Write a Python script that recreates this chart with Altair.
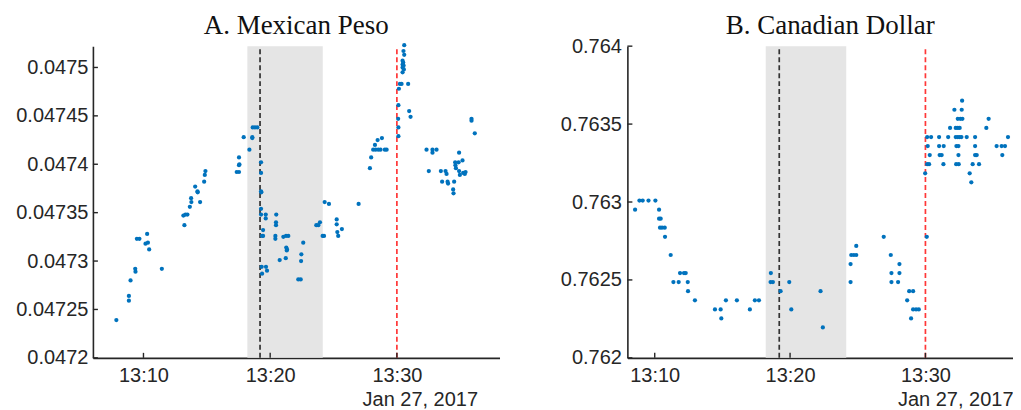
import altair as alt
import pandas as pd

# ---------------- data (minutes after 13:00, rate) ----------------
mxn_time = [7.86, 8.85, 8.85, 8.98, 9.35, 9.37, 9.48, 9.68, 10.16, 10.29, 10.35, 10.45, 11.45,
            13.15, 13.23, 13.31, 13.47, 13.66, 13.78, 13.76, 14.08, 14.26, 14.28, 14.47, 14.79,
            14.84, 14.89, 17.36, 17.54, 17.54, 17.57, 17.54, 17.91, 18.36, 18.59, 18.59, 18.62,
            18.80, 18.99, 19.28, 19.28, 19.28, 19.30, 19.28, 19.28, 19.65, 20.48, 19.65, 20.46,
            20.46, 19.44, 19.36, 19.44, 20.41, 20.41, 21.04, 21.25, 21.43, 21.27, 21.33, 21.31,
            21.23, 20.75, 22.46, 22.44, 22.61, 19.33, 19.67, 19.75, 19.36, 22.22, 22.41, 23.64,
            23.80, 23.93, 24.14, 24.25, 24.30, 24.64, 25.25, 25.25, 25.66, 25.30, 25.37, 26.98,
            27.87, 27.97, 28.13, 28.27, 28.32, 28.48, 28.53, 28.71, 28.82, 29.05, 29.19, 30.10,
            30.12, 30.12, 30.12, 30.16, 30.24, 30.37, 30.45, 30.50, 30.45, 30.53, 30.45, 30.55,
            30.45, 30.52, 30.58, 30.58, 30.89, 30.97, 31.08, 32.34, 32.81, 33.13, 32.81, 32.52,
            33.47, 33.84, 33.92, 33.57, 34.00, 34.04, 34.52, 34.44, 34.47, 34.60, 34.87, 34.62,
            34.66, 34.91, 35.18, 34.91, 35.23, 35.36, 34.97, 35.42, 35.89, 35.89, 36.15]
mxn_rate = [0.047239, 0.047264, 0.047259, 0.047280, 0.047292, 0.047289, 0.047323, 0.047323,
            0.047318, 0.047328, 0.047319, 0.047312, 0.047292, 0.047347, 0.047337, 0.047348,
            0.047348, 0.047356, 0.047361, 0.047365, 0.047377, 0.047372, 0.047371, 0.047361,
            0.047382, 0.047389, 0.047393, 0.047392, 0.047392, 0.047399, 0.047400, 0.047407,
            0.047428, 0.047415, 0.047428, 0.047427, 0.047438, 0.047438, 0.047438, 0.047402,
            0.047391, 0.047372, 0.047371, 0.047354, 0.047348, 0.047348, 0.047348, 0.047344,
            0.047340, 0.047337, 0.047332, 0.047326, 0.047326, 0.047326, 0.047323, 0.047325,
            0.047326, 0.047326, 0.047314, 0.047312, 0.047311, 0.047303, 0.047301, 0.047307,
            0.047300, 0.047319, 0.047294, 0.047294, 0.047290, 0.047287, 0.047281, 0.047281,
            0.047337, 0.047337, 0.047340, 0.047326, 0.047326, 0.047361, 0.047359, 0.047343,
            0.047338, 0.047333, 0.047330, 0.047326, 0.047359, 0.047396, 0.047407, 0.047415,
            0.047420, 0.047415, 0.047425, 0.047415, 0.047415, 0.047427, 0.047415, 0.047415,
            0.047447, 0.047438, 0.047429, 0.047461, 0.047478, 0.047483, 0.047483, 0.047507,
            0.047505, 0.047503, 0.047502, 0.047500, 0.047498, 0.047495, 0.047517, 0.047513,
            0.047523, 0.047483, 0.047455, 0.047449, 0.047415, 0.047415, 0.047415, 0.047412,
            0.047393, 0.047393, 0.047393, 0.047390, 0.047382, 0.047382, 0.047380, 0.047382,
            0.047374, 0.047370, 0.047402, 0.047402, 0.047399, 0.047396, 0.047412, 0.047404,
            0.047393, 0.047391, 0.047390, 0.047389, 0.047392, 0.047447, 0.047445, 0.047432]

cad_time = [8.55, 8.87, 9.11, 9.54, 10.05, 10.32, 10.32, 10.44, 10.39, 10.54, 10.74, 10.76,
            11.18, 11.38, 11.77, 11.87, 12.16, 12.29, 12.44, 12.46, 12.97, 14.45, 14.87, 14.92,
            15.26, 16.07, 17.03, 17.40, 17.70, 18.58, 18.56, 18.73, 19.30, 19.94, 20.09, 22.25,
            22.42, 24.47, 24.47, 24.52, 24.71, 24.89, 24.89, 26.92, 27.44, 27.49, 27.49, 28.08,
            28.08, 27.98, 28.80, 29.09, 28.65, 29.09, 29.31, 29.51, 28.94, 30.10, 29.98, 30.13,
            30.27, 30.32, 30.17, 30.13, 30.42, 31.01, 31.01, 31.35, 31.05, 31.20, 31.33, 31.68,
            31.82, 32.24, 32.39, 32.53, 32.39, 32.58, 32.73, 32.14, 32.68, 32.71, 32.24, 32.39,
            32.53, 32.66, 32.29, 32.44, 32.44, 32.27, 32.46, 33.05, 33.67, 33.67, 33.67, 33.79,
            33.49, 33.96, 33.27, 33.39, 34.50, 34.67, 35.26, 35.63, 35.88, 35.68, 36.10]
cad_rate = [0.762951, 0.763009, 0.763009, 0.763009, 0.763009, 0.762951, 0.762893, 0.762893,
            0.762835, 0.762835, 0.762835, 0.762777, 0.762660, 0.762486, 0.762486, 0.762544,
            0.762544, 0.762544, 0.762486, 0.762428, 0.762369, 0.762311, 0.762311, 0.762253,
            0.762369, 0.762369, 0.762311, 0.762369, 0.762369, 0.762544, 0.762486, 0.762486,
            0.762428, 0.762486, 0.762311, 0.762428, 0.762195, 0.762486, 0.762602, 0.762660,
            0.762660, 0.762660, 0.762718, 0.762777, 0.762660, 0.762544, 0.762486, 0.762602,
            0.762544, 0.762486, 0.762428, 0.762428, 0.762369, 0.762311, 0.762311, 0.762311,
            0.762253, 0.762777, 0.763184, 0.763243, 0.763243, 0.763301, 0.763359, 0.763417,
            0.763417, 0.763417, 0.763359, 0.763359, 0.763301, 0.763301, 0.763243, 0.763417,
            0.763475, 0.763475, 0.763475, 0.763475, 0.763534, 0.763534, 0.763534, 0.763592,
            0.763592, 0.763650, 0.763417, 0.763417, 0.763417, 0.763417, 0.763359, 0.763359,
            0.763301, 0.763243, 0.763243, 0.763417, 0.763417, 0.763359, 0.763301, 0.763301,
            0.763243, 0.763243, 0.763184, 0.763126, 0.763475, 0.763534, 0.763359, 0.763359,
            0.763359, 0.763301, 0.763417]

x_tick_values = [10, 20, 30]
x_tick_labels = ["13:10", "13:20", "13:30"]
mxn_y_ticks = [0.0472, 0.04725, 0.0473, 0.04735, 0.0474, 0.04745, 0.0475]
cad_y_ticks = [0.762, 0.7625, 0.763, 0.7635, 0.764]
band_start, band_end = 18.2, 24.15
black_event = [19.2]
red_event = [30.0]
date_label = "Jan 27, 2017"
titles = ["A. Mexican Peso", "B. Canadian Dollar"]

AX = "#262626"
FONT = "Liberation Sans"
H = 312

label_map = "{" + ",".join(f"'{v}':'{l}'" for v, l in zip(x_tick_values, x_tick_labels)) + "}"
x_label_expr = f"{label_map}[datum.value]"


def panel(times, rates, xdom, ydom, yticks, yfmt, W, title, title_dx, date_x, ypad):
    df = pd.DataFrame({"t": times, "v": rates})
    xs = alt.Scale(domain=xdom, nice=False, zero=False)
    ys = alt.Scale(domain=ydom, nice=False, zero=False)
    x_axis = alt.Axis(values=x_tick_values, labelExpr=x_label_expr, ticks=False, grid=False,
                      domainColor=AX, domainWidth=1.6, labelFont=FONT, labelFontSize=20,
                      labelColor=AX, labelPadding=8, labelFlush=False,
                      title=date_label, titleFont=FONT, titleFontSize=20,
                      titleFontWeight="normal", titleColor=AX, titleAlign="right",
                      titleX=date_x, titleY=48, titleBaseline="alphabetic")
    y_axis = alt.Axis(values=yticks, format=yfmt, ticks=False, grid=False,
                      domainColor=AX, domainWidth=1.6, labelFont=FONT, labelFontSize=20,
                      labelColor=AX, labelPadding=ypad, labelFlush=False, title=None)

    band = alt.Chart(pd.DataFrame({"a": [band_start], "b": [band_end]})).mark_rect(
        color="#e5e5e5").encode(
        x=alt.X("a:Q", scale=xs, axis=x_axis), x2="b:Q",
        y=alt.value(0), y2=alt.value(H))
    black = alt.Chart(pd.DataFrame({"t": black_event})).mark_rule(
        color="#333333", strokeWidth=1.7, strokeDash=[5, 3]).encode(
        x=alt.X("t:Q", scale=xs, axis=x_axis), y=alt.value(3), y2=alt.value(H))
    red = alt.Chart(pd.DataFrame({"t": red_event})).mark_rule(
        color="#ff3838", strokeWidth=1.7, strokeDash=[5, 3]).encode(
        x=alt.X("t:Q", scale=xs, axis=x_axis), y=alt.value(3), y2=alt.value(H))
    pts = alt.Chart(df).mark_circle(size=18, color="#0072BD", opacity=1).encode(
        x=alt.X("t:Q", scale=xs, axis=x_axis),
        y=alt.Y("v:Q", scale=ys, axis=y_axis))
    yt = alt.Chart(pd.DataFrame({"v": yticks})).mark_rule(color=AX, strokeWidth=1.4).encode(
        y=alt.Y("v:Q", scale=ys, axis=y_axis), x=alt.value(0), x2=alt.value(5))
    xt = alt.Chart(pd.DataFrame({"t": x_tick_values})).mark_rule(color=AX, strokeWidth=1.4).encode(
        x=alt.X("t:Q", scale=xs, axis=x_axis), y=alt.value(H), y2=alt.value(H - 5))
    ttl = alt.Chart(pd.DataFrame({"label": [title]})).mark_text(
        font="Liberation Serif", fontSize=27, color="#111111", align="center",
        baseline="alphabetic").encode(
        text="label:N", x=alt.value(W / 2 + title_dx), y=alt.value(-12))

    return alt.layer(band, black, red, pts, yt, xt, ttl).properties(width=W, height=H)


left = panel(mxn_time, mxn_rate, [6.01, 38.1], [0.0472, 0.047522], mxn_y_ticks, ".5~f",
             407, titles[0], 0, 385, 5)
right = panel(cad_time, cad_rate, [7.98, 36.47], [0.762, 0.764], cad_y_ticks, ".4~f",
              386, titles[1], 10, 386, 6)

chart = alt.hconcat(left, right, spacing=60).properties(
    padding={"left": 7, "top": 4, "right": 0, "bottom": 0}
).configure_view(stroke=None)

chart.save("out.html", embed_options={"renderer": "svg", "actions": False})
